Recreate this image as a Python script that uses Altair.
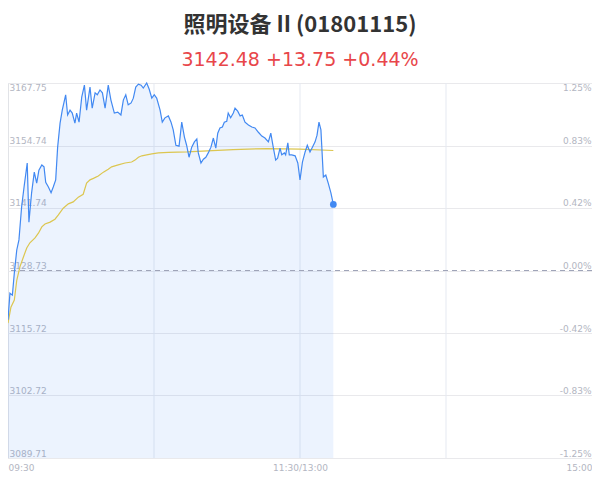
import json
import altair as alt
import pandas as pd

prev_close = 3128.73

minutes = [0, 0.8, 1.8, 2.6, 3.6, 4.5, 5.6, 6.6, 7.9, 8.6, 9.7, 10.8, 11.8, 12.7, 13.9, 14.8,
           15.5, 16.6, 17.7, 18.6, 19.6, 20.4, 21.4, 22.3, 23.7, 24.5, 25.5, 26.4, 27.5, 28.2,
           29.2, 30.3, 31.4, 32.3, 33.7, 34.6, 35.8, 36.7, 37.8, 38.8, 39.9, 41.2, 42.3, 43.7,
           45.1, 46.4, 47.4, 48.4, 49.4, 50.6, 51.5, 52.5, 53.6, 54.7, 55.6, 57.0, 58.0, 59.1,
           60.1, 61.1, 62.5, 63.4, 64.5, 65.9, 67.0, 67.9, 69.0, 70.3, 71.4, 72.5, 73.4, 74.4,
           75.5, 76.6, 77.6, 78.2, 79.3, 80.3, 81.3, 82.3, 83.4, 84.4, 85.4, 86.2, 87.1, 88.1,
           88.9, 89.9, 90.5, 91.5, 92.6, 93.3, 94.4, 95.4, 96.3, 97.4, 98.8, 100.2, 101.5, 102.9,
           104.3, 105.6, 107.0, 108.0, 109.0, 110.0, 110.8, 111.8, 112.5, 113.6, 114.1, 115.0,
           115.6, 116.6, 118.0, 119.1, 120.0, 121.0, 122.1, 123.0, 124.1, 125.1, 126.2, 127.0,
           127.8, 128.6, 129.6, 130.6, 131.6, 132.7, 133.7]
prices = [3118.5, 3124.0, 3123.6, 3128.2, 3133.0, 3135.1, 3142.0, 3146.1, 3151.1, 3138.8, 3144.9,
          3149.2, 3146.9, 3149.6, 3150.7, 3150.3, 3147.1, 3146.1, 3144.9, 3146.1, 3147.6, 3154.4,
          3159.4, 3162.1, 3165.3, 3161.1, 3162.1, 3161.5, 3159.4, 3161.5, 3159.6, 3164.8, 3167.3,
          3162.1, 3166.9, 3162.5, 3165.7, 3165.3, 3166.3, 3165.7, 3162.5, 3167.3, 3164.2, 3161.5,
          3161.7, 3161.1, 3164.2, 3165.3, 3163.2, 3163.6, 3164.6, 3166.9, 3167.5, 3167.3, 3166.7,
          3167.75, 3166.5, 3164.6, 3165.3, 3164.6, 3162.1, 3159.6, 3160.5, 3160.9, 3159.6, 3158.0,
          3154.8, 3154.6, 3159.6, 3156.5, 3154.8, 3152.3, 3154.4, 3155.5, 3156.1, 3153.2, 3151.1,
          3151.9, 3152.3, 3153.2, 3154.4, 3156.3, 3154.2, 3157.3, 3158.4, 3158.6, 3159.6, 3159.8,
          3161.5, 3160.5, 3161.5, 3162.5, 3161.9, 3160.9, 3161.1, 3159.6, 3159.0, 3158.6, 3158.4,
          3157.5, 3156.7, 3156.3, 3155.5, 3157.3, 3154.4, 3151.7, 3152.1, 3154.2, 3152.8, 3153.2,
          3152.8, 3155.3, 3152.8, 3152.8, 3152.6, 3151.1, 3147.6, 3151.3, 3153.4, 3154.8, 3153.4,
          3154.4, 3155.5, 3156.9, 3159.6, 3158.0, 3148.2, 3148.6, 3146.9, 3144.9, 3142.48]

avg_minutes = [0, 1.2, 2.6, 3.6, 4.9, 6.3, 7.7, 9.0, 11.1, 12.5, 13.9, 15.2, 17.3, 19.3, 20.7,
               22.7, 24.8, 26.8, 28.9, 30.9, 32.3, 33.7, 35.1, 37.1, 39.2, 41.2, 42.6, 45.3,
               48.1, 50.8, 52.2, 53.6, 55.0, 57.0, 59.1, 61.8, 65.9, 73.6, 92.5, 106.5, 120.0,
               133.7]
avg_prices = [3117.8, 3121.1, 3122.6, 3126.7, 3129.5, 3131.5, 3133.4, 3134.5, 3135.5, 3136.5,
              3137.8, 3138.4, 3138.8, 3139.4, 3140.3, 3141.7, 3142.6, 3143.0, 3144.0, 3144.6,
              3146.9, 3147.6, 3147.9, 3148.4, 3149.2, 3149.8, 3150.3, 3150.7, 3151.1, 3151.3,
              3151.7, 3152.3, 3152.6, 3152.8, 3153.0, 3153.2, 3153.3, 3153.4, 3153.9, 3154.1,
              3154.0, 3153.7]

y_ticks = [3089.71, 3102.72, 3115.72, 3128.73, 3141.74, 3154.74, 3167.75]
pct_labels = ["-1.25%", "-0.83%", "-0.42%", "0.00%", "0.42%", "0.83%", "1.25%"]
x_ticks = [0, 120, 240]
x_labels = ["09:30", "11:30/13:00", "15:00"]
x_grid = [0, 60, 120, 180]

title_text = "照明设备 II (01801115)"
subtitle_text = "3142.48 +13.75 +0.44%"

BLUE = "#4289f2"
YELLOW = "#dcc650"
LABEL = "#b3b6c2"

price_df = pd.DataFrame({"m": minutes, "p": prices})
avg_df = pd.DataFrame({"m": avg_minutes, "p": avg_prices})
last_df = price_df.tail(1)

xs = alt.Scale(domain=[x_ticks[0], x_ticks[-1]], nice=False, zero=False)
ys = alt.Scale(domain=[y_ticks[0], y_ticks[-1]], nice=False, zero=False)

x_axis = alt.Axis(
    values=x_ticks,
    labelExpr=f"{json.dumps(x_labels)}[indexof({json.dumps(x_ticks)}, datum.value)]",
    labelFlush=True, grid=False, ticks=False, domain=False, tickSize=0,
    labelPadding=5, labelColor=LABEL, labelFont="DejaVu Sans", labelFontSize=9,
    title=None,
)
top_cond = alt.condition(f"datum.value >= {y_ticks[-1]}", alt.value("top"), alt.value("bottom"))
left_axis = alt.Axis(
    orient="left", values=y_ticks, format=".2f",
    labelAlign="left", labelBaseline=top_cond,
    labelPadding=-1, tickSize=0, ticks=False, domain=False,
    grid=True, gridColor="#e9e9ec", gridWidth=1,
    labelColor=LABEL, labelFont="DejaVu Sans", labelFontSize=9, title=None,
)
right_axis = alt.Axis(
    orient="right", values=y_ticks,
    labelExpr=f"{json.dumps(pct_labels)}[indexof({json.dumps(y_ticks)}, datum.value)]",
    labelAlign="right", labelBaseline=top_cond,
    labelPadding=-1, tickSize=0, ticks=False, domain=False, grid=False,
    labelColor=LABEL, labelFont="DejaVu Sans", labelFontSize=9, title=None,
)


def X(field):
    return alt.X(field, type="quantitative", scale=xs, axis=x_axis)


vgrid = alt.Chart(pd.DataFrame({"m": x_grid})).mark_rule(color="#e5e9f1", strokeWidth=1).encode(
    x=X("m")
)
area = alt.Chart(price_df).mark_area(color=BLUE, opacity=0.1).encode(
    x=X("m"),
    y=alt.Y("p:Q", scale=ys, axis=left_axis),
    y2=alt.datum(y_ticks[0]),
)
zero = alt.Chart(pd.DataFrame({"v": [prev_close]})).mark_rule(
    color="#9fa4b8", strokeDash=[5, 4], strokeWidth=1
).encode(y=alt.Y("v:Q", scale=ys, axis=None))
avg_line = alt.Chart(avg_df).mark_line(color=YELLOW, strokeWidth=1.2).encode(
    x=X("m"),
    y=alt.Y("p:Q", scale=ys, axis=right_axis),
)
price_line = alt.Chart(price_df).mark_line(color=BLUE, strokeWidth=1.2).encode(
    x=X("m"),
    y=alt.Y("p:Q", scale=ys, axis=None),
)
dot = alt.Chart(last_df).mark_circle(color=BLUE, size=45, opacity=1).encode(
    x=X("m"),
    y=alt.Y("p:Q", scale=ys, axis=None),
)

chart = alt.layer(vgrid, area, zero, avg_line, price_line, dot).resolve_scale(
    y="independent"
).properties(
    width=584, height=375,
    autosize=alt.AutoSizeParams(type="none"),
    padding={"left": 0, "top": 75, "right": 0, "bottom": 17},
    title=alt.TitleParams(
        text=title_text, subtitle=subtitle_text,
        font="Noto Sans CJK SC", fontSize=22, fontWeight="bold", color="#333333",
        subtitleFont="DejaVu Sans", subtitleFontSize=19, subtitleColor="#e8464a",
        anchor="middle", frame="group", offset=10, subtitlePadding=14,
    ),
).configure_view(stroke=None).configure(background="white")

chart.save("out.html", embed_options={"renderer": "svg", "actions": False})
